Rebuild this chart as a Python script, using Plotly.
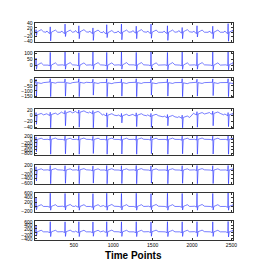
import plotly.graph_objects as go

# ---- data ----
beat_times = [20, 200, 388, 563, 742, 917, 1104, 1292, 1479, 1688, 1875, 2063, 2263, 2458]

ch1_base = [2, 0, 0, 2, 0, -2, 0, 2, 0, 0, 2, 0, 0, 0]
ch1_r = [12, 25, 38, 30, 20, 35, 38, 28, 38, 30, 22, 30, 28, 40]
ch1_s = [-15, -40, -20, -30, -38, -25, -35, -30, -28, -38, -30, -22, -30, -42]
ch1_pqt = [6, -6, 10]

ch2_base = [3, 3, 5, 3, 5, 3, 5, 5, 3, 5, 3, 5, 3, 5]
ch2_r = [60, 105, 108, 102, 108, 105, 108, 105, 108, 105, 108, 102, 108, 110]
ch2_s = [-30, -35, -30, -35, -32, -35, -30, -35, -30, -35, -32, -30, -35, -35]
ch2_pqt = [5, -5, 18]

ch3_base = [-18, -15, -18, -15, -18, -20, -18, -18, -20, -18, -20, -18, -18, -20]
ch3_r = [15, 20, 18, 20, 15, 20, 18, 20, 15, 18, 20, 15, 18, 20]
ch3_s = [-150, -155, -150, -155, -140, -155, -150, -155, -140, -150, -155, -150, -145, -155]
ch3_pqt = [5, 3, -8]

ch4_base = [3, 4, 10, 12, 10, 2, 0, 2, 0, -4, -6, 6, 8, 3]
ch4_r = [11, 12, 18, 20, 18, 10, 8, 10, 8, 4, 2, 14, 16, 11]
ch4_s = [-30, -42, -35, -40, -42, -40, -25, -38, -40, -35, -42, -40, -35, -38]
ch4_pqt = [3, -3, 5]

ch5_base = [0, 10, 0, 10, 0, 5, 0, 10, 0, 5, 0, 10, 0, 5]
ch5_r = [150, 200, 190, 200, 180, 200, 190, 200, 180, 200, 190, 200, 190, 200]
ch5_s = [-700, -850, -820, -850, -800, -850, -830, -850, -810, -850, -820, -850, -830, -850]
ch5_pqt = [30, -40, 70]

ch6_base = [0, 10, 0, 10, 0, 5, 0, 10, 0, 5, 0, 10, 0, 5]
ch6_r = [150, 210, 200, 210, 190, 210, 200, 210, 190, 210, 200, 210, 200, 210]
ch6_s = [-500, -630, -610, -630, -600, -630, -620, -630, -600, -630, -610, -630, -620, -630]
ch6_pqt = [25, -30, 55]

ch7_base = [0, 0, 10, 0, 0, 10, 0, 0, 10, 0, 0, 10, 0, 0]
ch7_r = [400, 600, 590, 600, 580, 600, 590, 600, 580, 600, 590, 600, 590, 610]
ch7_s = [-150, -170, -160, -170, -150, -170, -160, -170, -150, -170, -160, -170, -160, -170]
ch7_pqt = [30, -40, 80]

ch8_base = [20, 20, 30, 20, 20, 30, 20, 20, 30, 20, 20, 30, 20, 20]
ch8_r = [420, 620, 610, 620, 600, 620, 610, 620, 600, 620, 610, 620, 610, 640]
ch8_s = [-230, -260, -250, -260, -240, -260, -250, -260, -240, -260, -250, -260, -250, -280]
ch8_pqt = [40, -50, 90]

y_ranges = [[-44, 44], [-40, 112], [-160, 25], [-44, 22],
            [-860, 220], [-640, 230], [-240, 620], [-470, 640]]
y_ticks = [[40, 20, 0, -20, -40], [100, 50, 0], [0, -50, -100, -150], [20, 0, -20, -40],
           [200, 0, -200, -400, -600, -800], [200, 0, -200, -400, -600],
           [600, 400, 200, 0, -200], [600, 400, 200, 0, -200, -400]]
x_ticks = [500, 1000, 1500, 2000, 2500]
x_label = "Time Points"

channels = [
    (ch1_base, ch1_r, ch1_s, ch1_pqt), (ch2_base, ch2_r, ch2_s, ch2_pqt),
    (ch3_base, ch3_r, ch3_s, ch3_pqt), (ch4_base, ch4_r, ch4_s, ch4_pqt),
    (ch5_base, ch5_r, ch5_s, ch5_pqt), (ch6_base, ch6_r, ch6_s, ch6_pqt),
    (ch7_base, ch7_r, ch7_s, ch7_pqt), (ch8_base, ch8_r, ch8_s, ch8_pqt),
]

# ---- layout geometry (page pixels; the page body adds an 8px offset) ----
OFF = 8
W, H = 254, 265
left_px, right_px = 35 - OFF, 237 - OFF
tops = [t - OFF for t in [20, 49.3, 76.5, 108.3, 135, 165, 193.3, 222.3]]
panel_h = 19.3
X_MAX = 2525


def build(base, r, s, pqt):
    p, q, tw = pqt
    xs, ys = [0], [base[0]]
    for i, t in enumerate(beat_times):
        b = base[i]
        pts = [(t - 55, b), (t - 42, b + p), (t - 30, b), (t - 5, b + q),
               (t, r[i]), (t + 5, s[i]), (t + 14, b), (t + 40, b + tw * 0.5),
               (t + 65, b + tw), (t + 95, b)]
        for x, y in pts:
            if 0 <= x <= X_MAX and x > xs[-1]:
                xs.append(x)
                ys.append(y)
    xs.append(2520)
    ys.append(base[-1])
    return xs, ys


fig = go.Figure()
font_small = dict(family="Liberation Sans, Arial, sans-serif", size=5, color="black")

for k, (base, r, s, pqt) in enumerate(channels):
    xs, ys = build(base, r, s, pqt)
    ax = "" if k == 0 else str(k + 1)
    fig.add_trace(go.Scatter(x=xs, y=ys, mode="lines",
                             line=dict(color="rgb(30,40,255)", width=0.6),
                             xaxis="x" + ax, yaxis="y" + ax, showlegend=False,
                             hoverinfo="skip"))
    top = 1 - tops[k] / H
    bot = 1 - (tops[k] + panel_h) / H
    last = (k == len(channels) - 1)
    fig.layout["xaxis" + ax] = dict(
        domain=[left_px / W, right_px / W], anchor="y" + ax, range=[1, X_MAX],
        tickvals=x_ticks, showticklabels=last, ticks="inside", ticklen=2,
        tickcolor="#333", mirror="allticks", showline=True, linecolor="#333",
        linewidth=1, showgrid=False, zeroline=False, tickfont=font_small,
    )
    fig.layout["yaxis" + ax] = dict(
        domain=[bot, top], anchor="x" + ax, range=y_ranges[k], tickvals=y_ticks[k],
        ticks="inside", ticklen=2, tickcolor="#333", mirror="allticks",
        showline=True, linecolor="#333", linewidth=1, showgrid=False,
        zeroline=False, tickfont=font_small,
    )

fig.add_annotation(text="<b>" + x_label + "</b>", xref="paper", yref="paper",
                   x=(136 - OFF) / W, y=1 - (257 - OFF) / H, showarrow=False,
                   xanchor="center", yanchor="middle",
                   font=dict(family="Liberation Sans, Arial, sans-serif", size=10,
                             color="black"))

fig.update_layout(width=W, height=H, margin=dict(l=0, r=0, t=0, b=0),
                  paper_bgcolor="white", plot_bgcolor="white")
fig.write_html("out.html")
